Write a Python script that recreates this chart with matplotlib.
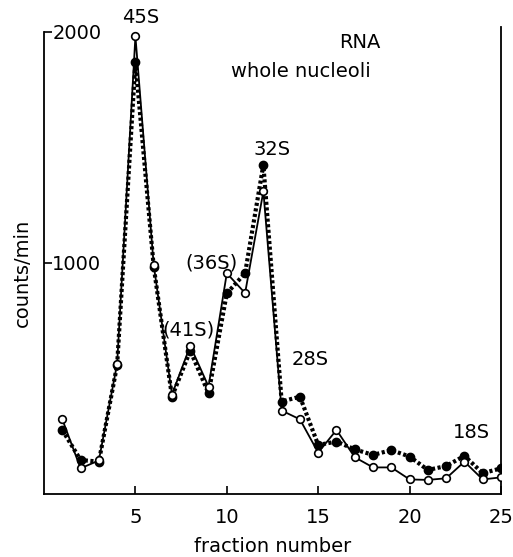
import matplotlib
matplotlib.use("Agg")
import matplotlib.pyplot as plt

# fraction numbers and counts/min
fractions = list(range(1, 26))
open_counts = [323, 111, 145, 563, 1980, 991, 430, 641, 465, 955, 869, 1309, 361,
               323, 179, 277, 159, 115, 115, 63, 61, 68, 140, 63, 72]
filled_counts = [277, 147, 140, 558, 1870, 984, 421, 620, 436, 868, 955, 1424, 400,
                 421, 212, 227, 193, 169, 190, 162, 104, 121, 165, 90, 111]

x_ticks = [5, 10, 15, 20, 25]
y_ticks = [1000, 2000]

# peak labels (text, fraction, counts)
peak_labels = [("45S", 5.27, 2060), ("32S", 12.5, 1490), ("(36S)", 9.18, 1000),
               ("(41S)", 7.9, 710), ("28S", 14.56, 580), ("18S", 23.4, 264)]

fs = 14
fig = plt.figure(figsize=(5.13, 5.57), dpi=100)
ax = fig.add_axes([0.0858, 0.1131, 0.8908, 0.8384])

ax.plot(fractions, filled_counts, color='black', lw=3, dashes=(0.75, 0.6),
        marker='o', markersize=6, markerfacecolor='black', zorder=2)
ax.plot(fractions, open_counts, color='black', lw=1.3, linestyle='-',
        marker='o', markersize=5.5, markerfacecolor='white',
        markeredgewidth=1.2, zorder=3)

ax.set_xlim(0, 25)
ax.set_ylim(0, 2020)

ax.spines['top'].set_visible(False)
ax.spines['left'].set_bounds(0, 2000)
for s in ['left', 'right', 'bottom']:
    ax.spines[s].set_linewidth(1.3)

ax.set_xticks(x_ticks)
ax.set_xticklabels([str(t) for t in x_ticks], fontsize=fs)
ax.tick_params(axis='x', direction='in', length=6, width=1.2, pad=10)

ax.set_yticks(y_ticks)
ax.set_yticklabels([str(t) for t in y_ticks], fontsize=fs, ha='left')
ax.tick_params(axis='y', direction='in', length=6, width=1.2, pad=-6)

ax.set_xlabel('fraction number', fontsize=fs, labelpad=7)
ax.set_ylabel('counts/min', fontsize=fs)
ax.yaxis.set_label_coords(-0.026, 0.473)

ax.text(17.25, 1952, 'RNA', fontsize=fs, ha='center', va='center')
ax.text(14.07, 1827, 'whole nucleoli', fontsize=fs, ha='center', va='center')
for txt, xx, yy in peak_labels:
    ax.text(xx, yy, txt, fontsize=fs, ha='center', va='center', clip_on=False)

fig.savefig('out.png', dpi=100)
